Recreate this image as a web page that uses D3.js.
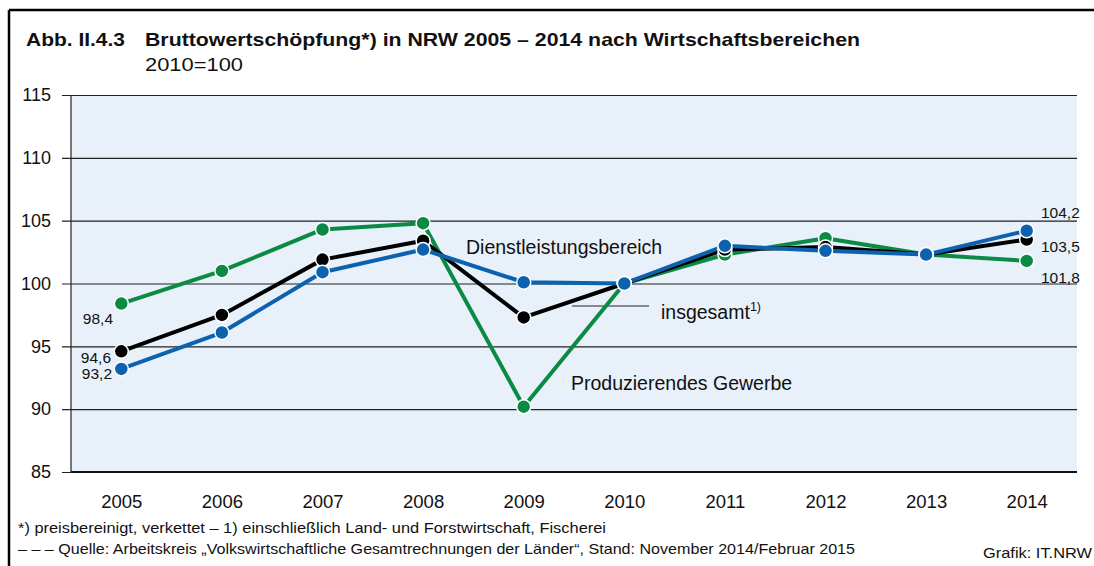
<!DOCTYPE html>
<html><head><meta charset="utf-8">
<script src="https://cdn.jsdelivr.net/npm/d3@7"></script>
<style>
html,body{margin:0;padding:0;background:#fff;}
svg{display:block;font-family:"Liberation Sans",Arial,sans-serif;}
</style></head>
<body>
<svg id="c" width="1094" height="566"></svg>
<script>
const years = ["2005","2006","2007","2008","2009","2010","2011","2012","2013","2014"];
const yTicks = [85,90,95,100,105,110,115];
const produzierend = [98.4,101.0,104.3,104.8,90.2,100,102.3,103.6,102.3,101.8];
const insgesamt   = [94.6,97.5,101.9,103.4,97.3,100,102.7,102.9,102.3,103.5];
const dienst      = [93.2,96.1,100.9,102.7,100.1,100,103.0,102.6,102.3,104.2];
const seriesNames = ["Produzierendes Gewerbe","insgesamt","Dienstleistungsbereich"];
const startLabels = ["98,4","94,6","93,2"];
const endLabels = ["101,8","103,5","104,2"];

const svg = d3.select("#c");
const L=71, R=1077, T=95, B=472;
const x = d3.scalePoint().domain(years).range([L,R]).padding(0.5);
const y = d3.scaleLinear().domain([85,115]).range([B,T]);

// frame
svg.append("line").attr("x1",9).attr("x2",1094).attr("y1",10).attr("y2",10).attr("stroke","#000").attr("stroke-width",2.5);
svg.append("line").attr("x1",9).attr("x2",9).attr("y1",10).attr("y2",566).attr("stroke","#000").attr("stroke-width",2.5);

// title
svg.append("text").attr("x",26).attr("y",46).attr("font-size",18.5).attr("font-weight","bold").attr("fill","#111")
  .attr("textLength",99).attr("lengthAdjust","spacingAndGlyphs").text("Abb. II.4.3");
svg.append("text").attr("x",145).attr("y",46).attr("font-size",18.5).attr("font-weight","bold").attr("fill","#111")
  .attr("textLength",715).attr("lengthAdjust","spacingAndGlyphs").text("Bruttowertschöpfung*) in NRW 2005 – 2014 nach Wirtschaftsbereichen");
svg.append("text").attr("x",145).attr("y",71).attr("font-size",18.5).attr("fill","#111")
  .attr("textLength",98).attr("lengthAdjust","spacingAndGlyphs").text("2010=100");

// plot bg
svg.append("rect").attr("x",L).attr("y",T).attr("width",R-L).attr("height",B-T).attr("fill","#e8f0fa");

// grid + y axis
const yAxis = d3.axisLeft(y).tickValues(yTicks).tickSize(R-L+9).tickPadding(11).tickFormat(d3.format("d"));
const ga = svg.append("g").attr("transform",`translate(${R},0)`).call(yAxis);
ga.select(".domain").remove();
ga.selectAll(".tick line").attr("stroke","#222").attr("stroke-width",1.2);
ga.selectAll(".tick text").attr("font-size",18).attr("fill","#111").attr("font-family","Liberation Sans, Arial, sans-serif");
svg.append("line").attr("x1",L).attr("x2",L).attr("y1",T).attr("y2",B).attr("stroke","#222").attr("stroke-width",1.2);
svg.append("line").attr("x1",L).attr("x2",R).attr("y1",B).attr("y2",B).attr("stroke","#111").attr("stroke-width",2);

// x axis labels
const xa = svg.append("g").attr("transform",`translate(0,${B})`).call(d3.axisBottom(x).tickSize(0).tickPadding(23));
xa.select(".domain").remove();
xa.selectAll(".tick text").attr("font-size",18.5).attr("fill","#111").attr("font-family","Liberation Sans, Arial, sans-serif");

// annotation texts
const ann = svg.append("g").attr("font-size",19.5).attr("fill","#111");
ann.append("text").attr("x",466).attr("y",254).text(seriesNames[2]);
svg.append("line").attr("x1",572).attr("x2",649).attr("y1",306).attr("y2",306).attr("stroke","#222").attr("stroke-width",1.2);
const ins = ann.append("text").attr("x",661).attr("y",319);
ins.append("tspan").text(seriesNames[1]);
ins.append("tspan").attr("dy",-8).attr("font-size",12.5).text("1)");
ann.append("text").attr("x",571).attr("y",390).text(seriesNames[0]);

// series
const data = [
  {v:produzierend,c:"#0b8a43"},
  {v:insgesamt,c:"#000000"},
  {v:dienst,c:"#0c62ae"}
];
const line = d3.line().x((d,i)=>x(years[i])).y(d=>y(d));
data.forEach(s=>{
  svg.append("path").datum(s.v).attr("d",line).attr("fill","none").attr("stroke",s.c).attr("stroke-width",4).attr("stroke-linejoin","round");
});
data.forEach(s=>{
  svg.append("g").selectAll("circle").data(s.v).join("circle")
    .attr("cx",(d,i)=>x(years[i])).attr("cy",d=>y(d)).attr("r",7)
    .attr("fill",s.c).attr("stroke","#fff").attr("stroke-width",1.5);
});

// value labels
const vl = svg.append("g").attr("font-size",15.5).attr("fill","#111");
const leftY = [324,363,379];
const leftX = [113,111,112];
startLabels.forEach((s,i)=>vl.append("text").attr("x",leftX[i]).attr("y",leftY[i]).attr("text-anchor","end").text(s));
const rightY = [283,252,218];
endLabels.forEach((s,i)=>vl.append("text").attr("x",1041).attr("y",rightY[i]).text(s));

// footnotes
const fn = svg.append("g").attr("font-size",14.5).attr("fill","#111");
fn.append("text").attr("x",18).attr("y",533).attr("textLength",588).attr("lengthAdjust","spacingAndGlyphs")
  .text("*) preisbereinigt, verkettet – 1) einschließlich Land- und Forstwirtschaft, Fischerei");
fn.append("text").attr("x",18).attr("y",554).attr("textLength",837).attr("lengthAdjust","spacingAndGlyphs")
  .text("– – – Quelle: Arbeitskreis „Volkswirtschaftliche Gesamtrechnungen der Länder“, Stand: November 2014/Februar 2015");
fn.append("text").attr("x",1092).attr("y",558).attr("text-anchor","end").attr("textLength",109).attr("lengthAdjust","spacingAndGlyphs").text("Grafik: IT.NRW");
</script>
</body></html>
